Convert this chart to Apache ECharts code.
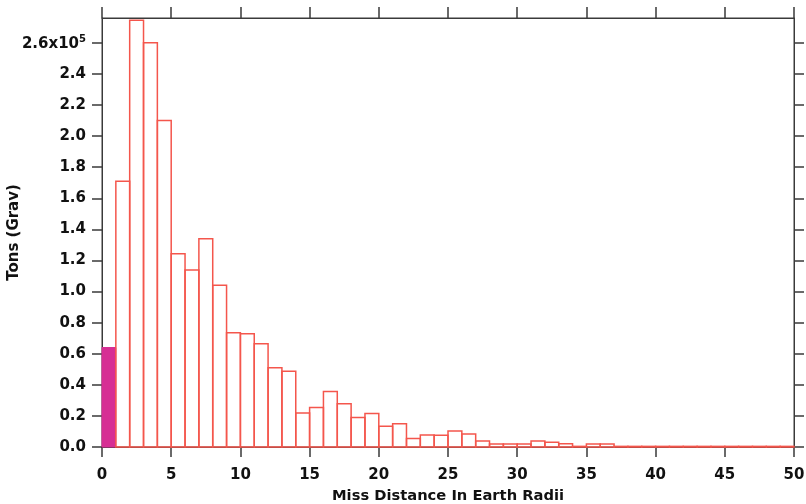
<!DOCTYPE html>
<html>
<head>
<meta charset="utf-8">
<script src="https://cdn.jsdelivr.net/npm/echarts@6/dist/echarts.min.js"></script>
<style>html,body{margin:0;padding:0;background:#fff}#c{width:806px;height:504px}</style>
</head>
<body>
<div id="c"></div>
<script>
// Bin lower edges (Earth radii), bin width 1
var binStarts = [0,1,2,3,4,5,6,7,8,9,10,11,12,13,14,15,16,17,18,19,20,21,22,23,24,25,26,27,28,29,30,31,32,33,34,35,36,37,38,39,40,41,42,43,44,45,46,47,48,49];
// Tons (Grav) in units of 1e5
var tons = [0.64,1.71,2.745,2.60,2.10,1.243,1.138,1.34,1.041,0.735,0.729,0.665,0.51,0.488,0.219,0.254,0.357,0.279,0.19,0.215,0.134,0.149,0.054,0.077,0.076,0.103,0.084,0.039,0.02,0.02,0.02,0.039,0.03,0.021,0.004,0.02,0.02,0.004,0.004,0.004,0.004,0.004,0.004,0.004,0.004,0.004,0.004,0.004,0.004,0.004];
var yTicks = [0,0.2,0.4,0.6,0.8,1.0,1.2,1.4,1.6,1.8,2.0,2.2,2.4,2.6];
var xTicks = [0,5,10,15,20,25,30,35,40,45,50];
var xTitle = 'Miss Distance In Earth Radii';
var yTitle = 'Tons (Grav)';

var data = binStarts.map(function(s, i){ return [s, s + 1, tons[i]]; });
var axisColor = '#3a3a3a';
var font = 'DejaVu Sans';

var chart = echarts.init(document.getElementById('c'), null, {renderer:'canvas'});
chart.setOption({
  animation: false,
  backgroundColor: '#fff',
  grid: {left: 102, right: 12, top: 18, bottom: 57, containLabel: false, outerBoundsMode: 'none', show: true, borderColor: axisColor, borderWidth: 1, backgroundColor: 'transparent'},
  xAxis: [{
    type: 'value', min: 0, max: 50, position: 'bottom',
    name: xTitle, nameLocation: 'middle', nameGap: 42, nameMoveOverlap: false,
    nameTextStyle: {fontFamily: font, fontWeight: 'bold', fontSize: 14.7, color: '#111'},
    axisLine: {show: true, onZero: false, lineStyle: {color: axisColor, width: 1}},
    axisTick: {show: true, inside: false, length: 10, customValues: xTicks, lineStyle: {color: axisColor, width: 1.5}},
    axisLabel: {customValues: xTicks, fontFamily: font, fontWeight: 'bold', fontSize: 15, color: '#111', margin: 21},
    splitLine: {show: false}
  },{
    type: 'value', min: 0, max: 50, position: 'top',
    axisLine: {show: true, onZero: false, lineStyle: {color: axisColor, width: 1}},
    axisTick: {show: true, inside: false, length: 11, customValues: xTicks, lineStyle: {color: axisColor, width: 1.5}},
    axisLabel: {show: false},
    splitLine: {show: false}
  }],
  yAxis: [{
    type: 'value', min: 0, max: 2.76, position: 'left',
    name: yTitle, nameLocation: 'middle', nameGap: 80, nameRotate: 90, nameMoveOverlap: false,
    nameTextStyle: {fontFamily: font, fontWeight: 'bold', fontSize: 15, color: '#111'},
    axisLine: {show: true, onZero: false, lineStyle: {color: axisColor, width: 1}},
    axisTick: {show: true, inside: false, length: 10, customValues: yTicks, lineStyle: {color: axisColor, width: 1.5}},
    axisLabel: {
      customValues: yTicks, fontFamily: font, fontWeight: 'bold', fontSize: 15, color: '#111', margin: 16,
      formatter: function(v){
        var s = v.toFixed(1);
        if (Math.abs(v - 2.6) < 1e-6) return '{a|' + s + 'x10}{s|5}';
        return s;
      },
      rich: {
        a: {fontFamily: font, fontWeight: 'bold', fontSize: 15, color: '#111', verticalAlign: 'bottom'},
        s: {fontFamily: font, fontWeight: 'bold', fontSize: 10, color: '#111', verticalAlign: 'bottom', padding: [0,0,7,0]}
      }
    },
    splitLine: {show: false}
  },{
    type: 'value', min: 0, max: 2.76, position: 'right',
    axisLine: {show: true, onZero: false, lineStyle: {color: axisColor, width: 1}},
    axisTick: {show: true, inside: false, length: 10, customValues: yTicks, lineStyle: {color: axisColor, width: 1.5}},
    axisLabel: {show: false},
    splitLine: {show: false}
  }],
  series: [{
    type: 'custom',
    xAxisIndex: 0, yAxisIndex: 0,
    data: data,
    encode: {x: [0, 1], y: 2},
    renderItem: function(params, api){
      var x0 = api.value(0), x1 = api.value(1), v = api.value(2);
      var p0 = api.coord([x0, 0]);
      var p1 = api.coord([x1, v]);
      var first = params.dataIndex === 0;
      return {
        type: 'rect',
        shape: {x: p0[0], y: p1[1], width: p1[0] - p0[0], height: p0[1] - p1[1]},
        style: first ? {fill: '#d62f94', stroke: '#d62f94', lineWidth: 1}
                     : {fill: 'rgba(255,255,255,0)', stroke: '#f4564c', lineWidth: 1.5}
      };
    }
  }]
});
</script>
</body>
</html>
